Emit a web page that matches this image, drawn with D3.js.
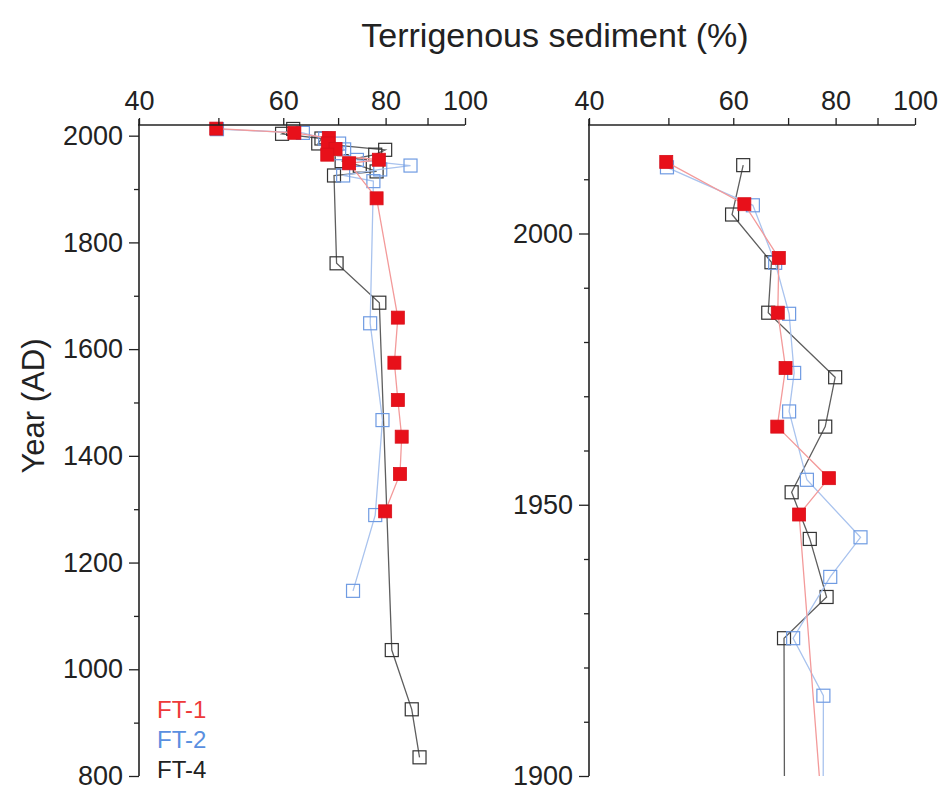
<!DOCTYPE html>
<html>
<head>
<meta charset="utf-8">
<script src="https://cdn.jsdelivr.net/npm/d3@7"></script>
<style>
  html, body { margin: 0; padding: 0; background: #fff; }
  svg { display: block; font-family: "Liberation Sans", Arial, sans-serif; }
</style>
</head>
<body>
<svg id="chart" width="941" height="791"></svg>
<script>
// ---------- data ----------
const seriesNames = ["FT-1", "FT-2", "FT-4"];

const ft1Year  = [2013.2, 2005.4, 1995.5, 1985.4, 1975.2, 1964.4, 1954.9, 1948.2, 1882.6, 1659, 1574.5, 1504.6, 1435.9, 1366, 1296];
const ft1Value = [49.7, 61.9, 68.2, 68.0, 69.5, 67.9, 78.5, 72.2, 78.0, 82.8, 82.0, 82.8, 83.7, 83.3, 79.9];

const ft2Year  = [2012.2, 2005.2, 1994.6, 1985.2, 1974.3, 1967.2, 1954.6, 1944, 1936.7, 1925.4, 1914.8, 1648.4, 1467, 1289, 1147];
const ft2Value = [49.8, 63.4, 67.5, 70.2, 71.2, 70.2, 73.8, 85.8, 78.8, 71.0, 77.3, 76.6, 79.3, 77.7, 73.0];

const ft4Year  = [2012.6, 2003.5, 1994.7, 1985.4, 1973.5, 1964.4, 1952.3, 1943.7, 1933, 1925.4, 1760.8, 1687, 1036, 925, 835];
const ft4Value = [61.7, 59.8, 66.8, 66.2, 79.9, 77.7, 70.7, 74.4, 78.0, 69.2, 69.7, 78.6, 81.4, 86.1, 88.0];

const xTicks = [40, 50, 60, 70, 80, 90, 100];
const xTickLabels = [40, 60, 80, 100];
const leftYMajor = [800, 1000, 1200, 1400, 1600, 1800, 2000];
const leftYMinor = [900, 1100, 1300, 1500, 1700, 1900];
const rightYMajor = [1900, 1950, 2000];
const rightYMinor = [1910, 1920, 1930, 1940, 1960, 1970, 1980, 1990, 2010];

const titleText = "Terrigenous sediment (%)";
const yLabelText = "Year (AD)";

// ---------- styles ----------
const styles = {
  "FT-1": { line: "#f39a9a", stroke: "#d8101a", fill: "#e8101a", legend: "#ee3a3a", filled: true },
  "FT-2": { line: "#a9c3ee", stroke: "#6f9be2", fill: "#ffffff", legend: "#5a8fe0", filled: false },
  "FT-4": { line: "#5e5e5e", stroke: "#333333", fill: "#ffffff", legend: "#222222", filled: false }
};

const series = [
  { name: "FT-4", years: ft4Year, values: ft4Value },
  { name: "FT-2", years: ft2Year, values: ft2Value },
  { name: "FT-1", years: ft1Year, values: ft1Value }
];

const svg = d3.select("#chart");
const axisColor = "#222";
const tickFont = 27;

function drawPanel(opts) {
  const x = d3.scaleLog().domain([40, 100]).range([opts.x0, opts.x1]);
  const y = d3.scaleLinear().domain(opts.yDomain).range([776, 125]);
  const g = svg.append("g");

  const clipId = "clip" + opts.id;
  svg.append("clipPath").attr("id", clipId)
    .append("rect").attr("x", opts.x0 - 20).attr("y", 110)
    .attr("width", opts.x1 - opts.x0 + 40).attr("height", 776 - 110);

  const plot = g.append("g").attr("clip-path", `url(#${clipId})`);
  const ms = 13;
  series.forEach(s => {
    const st = styles[s.name];
    const pts = s.years.map((yr, i) => [s.values[i], yr]);
    plot.append("path")
      .datum(pts)
      .attr("fill", "none")
      .attr("stroke", st.line)
      .attr("stroke-width", 1.3)
      .attr("d", d3.line().x(d => x(d[0])).y(d => y(d[1])));
    plot.selectAll(null).data(pts.filter(d => d[1] >= opts.yDomain[0])).enter()
      .append("rect")
      .attr("x", d => x(d[0]) - ms / 2)
      .attr("y", d => y(d[1]) - ms / 2)
      .attr("width", ms).attr("height", ms)
      .attr("fill", st.filled ? st.fill : "none")
      .attr("stroke", st.stroke)
      .attr("stroke-width", st.filled ? 0.8 : 1.2);
  });

  // top x axis
  const xAxis = d3.axisTop(x)
    .tickValues(xTicks)
    .tickFormat(d => xTickLabels.includes(d) ? d : "")
    .tickSize(7).tickSizeOuter(0).tickPadding(8);
  const gx = g.append("g").attr("transform", "translate(0,125)").call(xAxis);
  gx.select(".domain").attr("stroke", axisColor).attr("stroke-width", 1.6)
    .attr("d", `M${opts.x0 - 1},0H${opts.x1}`);
  gx.selectAll(".tick line").attr("stroke", axisColor).attr("stroke-width", 1.3);
  gx.selectAll(".tick text").attr("font-size", tickFont).attr("fill", "#222")
    .attr("font-family", "Liberation Sans, Arial, sans-serif");

  // left y axis major
  const yAxis = d3.axisLeft(y).tickValues(opts.yMajor).tickFormat(d3.format("d"))
    .tickSize(10).tickSizeOuter(0).tickPadding(6);
  const gy = g.append("g").attr("transform", `translate(${opts.x0},0)`).call(yAxis);
  gy.select(".domain").attr("stroke", axisColor).attr("stroke-width", 1.6)
    .attr("d", `M0,119V776`);
  gy.selectAll(".tick line").attr("stroke", axisColor).attr("stroke-width", 1.3);
  gy.selectAll(".tick text").attr("font-size", tickFont).attr("fill", "#222")
    .attr("font-family", "Liberation Sans, Arial, sans-serif");

  // minor ticks
  const yMinor = d3.axisLeft(y).tickValues(opts.yMinor).tickFormat("").tickSize(5).tickSizeOuter(0);
  const gm = g.append("g").attr("transform", `translate(${opts.x0},0)`).call(yMinor);
  gm.select(".domain").remove();
  gm.selectAll(".tick line").attr("stroke", axisColor).attr("stroke-width", 1.3);
}

drawPanel({ id: "L", x0: 139, x1: 465, yDomain: [800, 2020], yMajor: leftYMajor, yMinor: leftYMinor });
drawPanel({ id: "R", x0: 589, x1: 915, yDomain: [1900, 2020], yMajor: rightYMajor, yMinor: rightYMinor });

// title
svg.append("text")
  .attr("x", 555).attr("y", 47)
  .attr("text-anchor", "middle")
  .attr("font-size", 34).attr("fill", "#222")
  .text(titleText);

// y label
svg.append("text")
  .attr("transform", "translate(44,406) rotate(-90)")
  .attr("text-anchor", "middle")
  .attr("font-size", 31).attr("fill", "#222")
  .text(yLabelText);

// legend
const legendBase = [718, 748, 778];
svg.append("g").selectAll("text").data(seriesNames).enter()
  .append("text")
  .attr("x", 157)
  .attr("y", (d, i) => legendBase[i])
  .attr("font-size", 24)
  .attr("fill", d => styles[d].legend)
  .text(d => d);
</script>
</body>
</html>
